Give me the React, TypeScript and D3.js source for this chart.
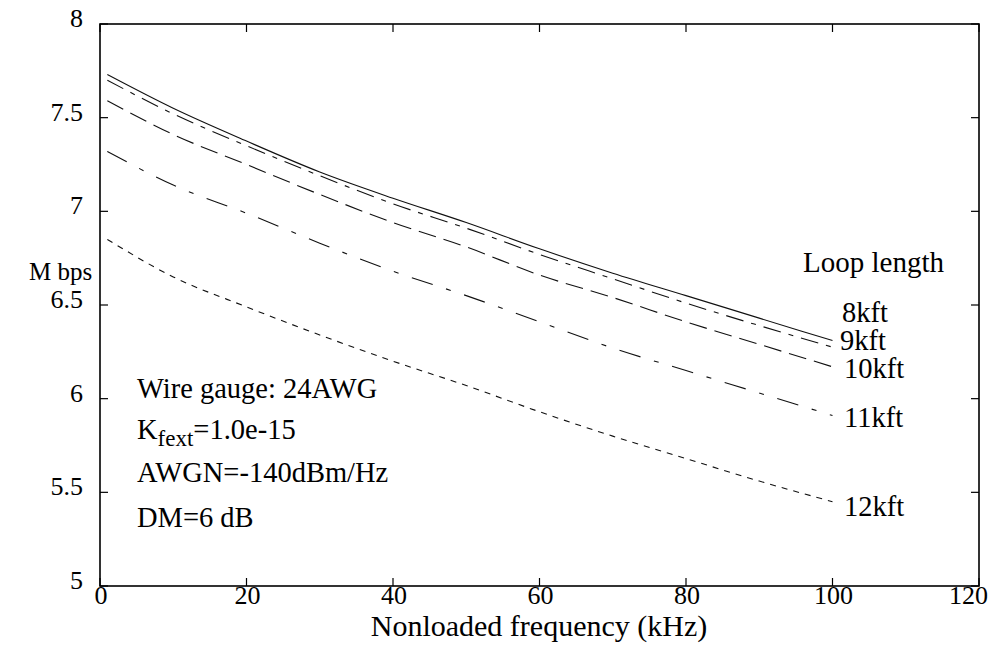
import React from "react";
import * as d3 from "d3";

// Achievable bit rate vs. nonloaded frequency for several loop lengths
const freqs = [1, 10, 20, 30, 40, 50, 60, 70, 80, 90, 100];
const rate8kft = [7.73, 7.55, 7.375, 7.21, 7.07, 6.94, 6.8, 6.67, 6.55, 6.43, 6.31];
const rate9kft = [7.7, 7.52, 7.35, 7.19, 7.04, 6.91, 6.77, 6.64, 6.51, 6.39, 6.275];
const rate10kft = [7.59, 7.41, 7.25, 7.09, 6.94, 6.81, 6.66, 6.54, 6.41, 6.29, 6.17];
const rate11kft = [7.32, 7.14, 6.99, 6.83, 6.68, 6.55, 6.41, 6.27, 6.15, 6.03, 5.91];
const rate12kft = [6.85, 6.65, 6.49, 6.34, 6.2, 6.07, 5.93, 5.8, 5.68, 5.56, 5.45];

const loopLabels = ["8kft", "9kft", "10kft", "11kft", "12kft"];
const xTicks = [0, 20, 40, 60, 80, 100, 120];
const yTicks = [5, 5.5, 6, 6.5, 7, 7.5, 8];

const W = 997;
const H = 646;
const left = 100;
const right = 979;
const top = 24;
const bottom = 586;

const serif = { fontFamily: "Liberation Serif" };

export default function App() {
  const x = d3.scaleLinear().domain([0, 120]).range([left, right]);
  const y = d3.scaleLinear().domain([5, 8]).range([bottom, top]);

  const series = [rate8kft, rate9kft, rate10kft, rate11kft, rate12kft];
  const dashes = ["none", "18,8,5,8", "18,8", "22,14,5,14", "6,6"];
  // label baselines for each loop length at the right end of the curves
  const labelY = [322, 350, 378, 427, 516];
  const labelX = [842, 840, 844, 844, 844];

  const line = d3
    .line<number>()
    .x((_, i) => x(freqs[i]))
    .y((d) => y(d))
    .curve(d3.curveMonotoneX);

  const tickLen = 8;

  return (
    <svg width={W} height={H} style={{ position: "absolute", left: 0, top: 0, background: "#fff" }}>
      <rect x={0} y={0} width={W} height={H} fill="#fff" />

      {series.map((s, i) => (
        <path
          key={loopLabels[i]}
          d={line(s) || ""}
          fill="none"
          stroke="#111"
          strokeWidth={1.1}
          strokeDasharray={dashes[i]}
        />
      ))}

      {/* axes box */}
      <rect
        x={left}
        y={top}
        width={right - left}
        height={bottom - top}
        fill="none"
        stroke="#000"
        strokeWidth={1.6}
      />

      {xTicks.map((t) => {
        const last = t === xTicks[xTicks.length - 1];
        return (
          <g key={"x" + t}>
            <line x1={x(t)} x2={x(t)} y1={bottom} y2={bottom - tickLen} stroke="#000" strokeWidth={1.2} />
            <line x1={x(t)} x2={x(t)} y1={top} y2={top + tickLen} stroke="#000" strokeWidth={1.2} />
            <text
              x={last ? 988 : x(t) + 1}
              y={604}
              fontSize={26}
              textAnchor={last ? "end" : "middle"}
              fill="#000"
              style={serif}
            >
              {t}
            </text>
          </g>
        );
      })}

      {yTicks.map((t) => (
        <g key={"y" + t}>
          <line x1={left} x2={left + tickLen} y1={y(t)} y2={y(t)} stroke="#000" strokeWidth={1.2} />
          <line x1={right} x2={right - tickLen} y1={y(t)} y2={y(t)} stroke="#000" strokeWidth={1.2} />
          <text x={83} y={y(t) + 3} fontSize={26} textAnchor="end" fill="#000" style={serif}>
            {t}
          </text>
        </g>
      ))}

      <text x={539} y={636} fontSize={30} textAnchor="middle" fill="#000" style={serif}>
        Nonloaded frequency (kHz)
      </text>
      <text x={29} y={280} fontSize={25} fill="#000" style={serif}>
        M bps
      </text>

      <text x={803} y={272} fontSize={29} fill="#000" style={serif}>
        Loop length
      </text>
      {loopLabels.map((l, i) => (
        <text key={l} x={labelX[i]} y={labelY[i]} fontSize={28.5} fill="#000" style={serif}>
          {l}
        </text>
      ))}

      <g fontSize={28.5} fill="#000">
        <text x={137} y={398} style={serif}>Wire gauge: 24AWG</text>
        <text x={137} y={439} style={serif}>
          K<tspan fontSize={23} dy={7}>fext</tspan>
          <tspan dy={-7}>=1.0e-15</tspan>
        </text>
        <text x={137} y={482} style={serif}>AWGN=-140dBm/Hz</text>
        <text x={137} y={527} style={serif}>DM=6 dB</text>
      </g>
    </svg>
  );
}
